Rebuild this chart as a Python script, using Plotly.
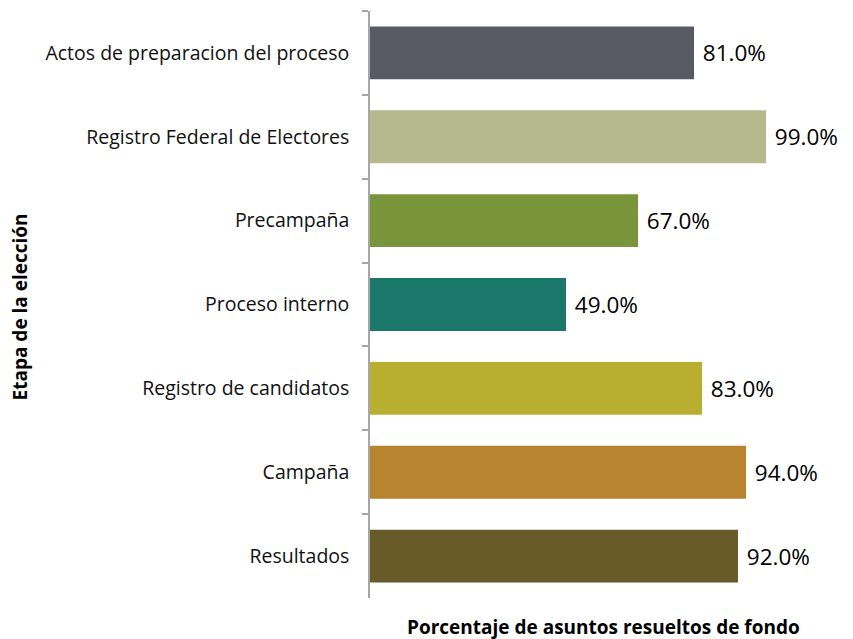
import plotly.graph_objects as go

categories = ["Actos de preparacion del proceso", "Registro Federal de Electores", "Precampaña",
              "Proceso interno", "Registro de candidatos", "Campaña", "Resultados"]
values = [81.0, 99.0, 67.0, 49.0, 83.0, 94.0, 92.0]
colors = ["#575A62", "#B6B98E", "#78953C", "#1B776A", "#B8AE30", "#B8842F", "#695A2A"]
value_labels = [f"\u00a0{v:.1f}%" for v in values]

fig = go.Figure(go.Bar(
    x=values, y=categories, orientation="h",
    marker=dict(color=colors, line=dict(width=0)),
    text=value_labels, textposition="outside", cliponaxis=False,
    textfont=dict(size=22.5, color="#000000", family="Open Sans"),
    width=0.63,
))

fig.update_layout(
    width=853, height=639,
    margin=dict(l=362, r=25, t=3, b=49),
    plot_bgcolor="white", paper_bgcolor="white",
    font=dict(family="Open Sans", color="#000000"),
    showlegend=False,
    xaxis=dict(range=[0, 116.5], visible=False, fixedrange=True, automargin=False),
    yaxis=dict(autorange="reversed", showline=True, linecolor="#A6A6A6", linewidth=1.5,
               ticks="outside", tickson="boundaries", ticklen=6, tickcolor="#A6A6A6",
               tickwidth=1.5, tickfont=dict(size=19.5, color="#111111"), ticklabelstandoff=15,
               showgrid=False, automargin=False),
    annotations=[
        dict(text="<b>Porcentaje de asuntos resueltos de fondo</b>", xref="paper", yref="paper",
             x=0.5, y=0, yshift=-29, xanchor="center", yanchor="middle", showarrow=False,
             font=dict(size=19, color="#000000")),
        dict(text="<b>Etapa de la elección</b>", xref="paper", yref="paper",
             x=0, xshift=-350, y=0.495, xanchor="center", yanchor="middle", showarrow=False,
             textangle=-90, font=dict(size=19, color="#000000")),
    ],
)

fig.write_html("out.html")
